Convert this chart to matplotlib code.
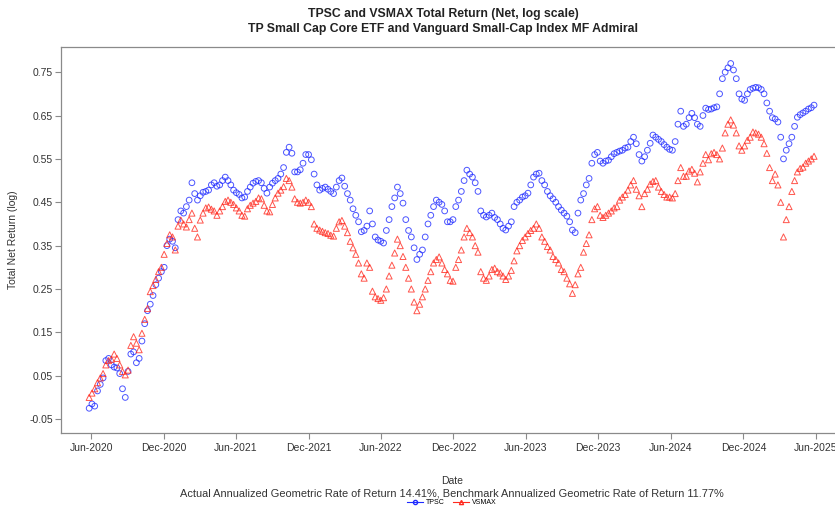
import matplotlib
matplotlib.use("Agg")
import matplotlib.pyplot as plt
import matplotlib.dates as mdates
from matplotlib.lines import Line2D
import pandas as pd

# ---- data (weekly readings) ----
start_date = "2020-05-27"
step = "7D"
tpsc = [-0.025, -0.015, -0.02, 0.015, 0.03, 0.045, 0.085, 0.09, 0.075, 0.07,
        0.068, 0.055, 0.02, 0.00, 0.06, 0.10, 0.105, 0.08, 0.09, 0.13,
        0.17, 0.20, 0.215, 0.235, 0.26, 0.275, 0.29, 0.30, 0.35, 0.365,
        0.36, 0.345, 0.41, 0.43, 0.425, 0.44, 0.455, 0.495, 0.47, 0.455,
        0.465, 0.473, 0.475, 0.478, 0.49, 0.495, 0.487, 0.49, 0.50, 0.508,
        0.50, 0.49, 0.478, 0.472, 0.468, 0.46, 0.462, 0.475, 0.485, 0.494,
        0.498, 0.50, 0.495, 0.482, 0.471, 0.485, 0.494, 0.50, 0.505, 0.515,
        0.53, 0.565, 0.577, 0.563, 0.52, 0.52, 0.525, 0.54, 0.56, 0.56,
        0.548, 0.515, 0.49, 0.478, 0.482, 0.485, 0.48, 0.475, 0.47, 0.485,
        0.50, 0.506, 0.487, 0.47, 0.455, 0.435, 0.42, 0.405, 0.382, 0.385,
        0.395, 0.43, 0.40, 0.37, 0.363, 0.36, 0.356, 0.385, 0.41, 0.44,
        0.46, 0.485, 0.47, 0.448, 0.41, 0.385, 0.37, 0.345, 0.318, 0.33,
        0.34, 0.37, 0.40, 0.42, 0.44, 0.455, 0.45, 0.445, 0.43, 0.405,
        0.405, 0.41, 0.44, 0.455, 0.475, 0.50, 0.524, 0.515, 0.508, 0.495,
        0.475, 0.43, 0.42, 0.416, 0.42, 0.425, 0.415, 0.41, 0.40, 0.39,
        0.386, 0.395, 0.405, 0.44, 0.45, 0.455, 0.462, 0.465, 0.471, 0.49,
        0.508, 0.515, 0.517, 0.50, 0.49, 0.475, 0.465, 0.458, 0.45, 0.44,
        0.432, 0.425, 0.418, 0.405, 0.386, 0.38, 0.425, 0.455, 0.47, 0.49,
        0.505, 0.54, 0.56, 0.565, 0.545, 0.54, 0.545, 0.547, 0.555, 0.562,
        0.565, 0.568, 0.57, 0.575, 0.577, 0.59, 0.60, 0.585, 0.56, 0.545,
        0.555, 0.57, 0.586, 0.605, 0.60, 0.595, 0.59, 0.583, 0.577, 0.572,
        0.57, 0.59, 0.63, 0.66, 0.625, 0.63, 0.645, 0.655, 0.645, 0.63,
        0.625, 0.65, 0.667, 0.664, 0.665, 0.668, 0.67, 0.70, 0.735, 0.75,
        0.76, 0.77, 0.755, 0.735, 0.70, 0.688, 0.685, 0.70, 0.71, 0.713,
        0.715, 0.714, 0.71, 0.70, 0.679, 0.66, 0.645, 0.642, 0.635, 0.60,
        0.55, 0.57, 0.585, 0.60, 0.625, 0.646, 0.652, 0.656, 0.66, 0.665,
        0.668, 0.674]
vsmax = [0.00, 0.01, 0.02, 0.034, 0.045, 0.055, 0.075, 0.085, 0.088, 0.10,
         0.09, 0.075, 0.06, 0.052, 0.063, 0.12, 0.14, 0.125, 0.11, 0.148,
         0.18, 0.205, 0.244, 0.258, 0.272, 0.29, 0.30, 0.33, 0.355, 0.375,
         0.37, 0.34, 0.395, 0.409, 0.40, 0.393, 0.41, 0.425, 0.39, 0.37,
         0.409, 0.425, 0.437, 0.439, 0.434, 0.43, 0.42, 0.43, 0.44, 0.452,
         0.455, 0.45, 0.445, 0.437, 0.43, 0.42, 0.418, 0.435, 0.443, 0.448,
         0.452, 0.46, 0.458, 0.443, 0.43, 0.428, 0.445, 0.46, 0.471, 0.478,
         0.486, 0.505, 0.50, 0.485, 0.458, 0.45, 0.448, 0.45, 0.455, 0.45,
         0.44, 0.40, 0.39, 0.386, 0.383, 0.38, 0.378, 0.374, 0.372, 0.39,
         0.405, 0.408, 0.395, 0.38, 0.36, 0.345, 0.33, 0.31, 0.285, 0.275,
         0.31, 0.30, 0.245, 0.232, 0.228, 0.224, 0.23, 0.25, 0.28, 0.305,
         0.333, 0.365, 0.35, 0.325, 0.30, 0.275, 0.25, 0.22, 0.20, 0.215,
         0.232, 0.25, 0.27, 0.29, 0.31, 0.318, 0.324, 0.31, 0.295, 0.285,
         0.27, 0.268, 0.30, 0.318, 0.34, 0.37, 0.39, 0.38, 0.37, 0.35,
         0.335, 0.29, 0.275, 0.27, 0.28, 0.295, 0.298, 0.29, 0.287, 0.28,
         0.272, 0.28, 0.293, 0.315, 0.338, 0.35, 0.362, 0.37, 0.378, 0.385,
         0.39, 0.40, 0.39, 0.37, 0.36, 0.348, 0.34, 0.325, 0.318, 0.31,
         0.295, 0.29, 0.275, 0.262, 0.24, 0.26, 0.285, 0.30, 0.335, 0.355,
         0.375, 0.41, 0.435, 0.44, 0.42, 0.415, 0.42, 0.425, 0.43, 0.437,
         0.44, 0.455, 0.462, 0.468, 0.478, 0.49, 0.50, 0.48, 0.465, 0.44,
         0.47, 0.48, 0.492, 0.498, 0.50, 0.485, 0.475, 0.468, 0.462, 0.462,
         0.46, 0.47, 0.50, 0.53, 0.51, 0.51, 0.522, 0.526, 0.517, 0.497,
         0.52, 0.54, 0.56, 0.548, 0.562, 0.565, 0.56, 0.55, 0.575, 0.61,
         0.63, 0.64, 0.628, 0.61, 0.58, 0.57, 0.58, 0.593, 0.60, 0.612,
         0.61, 0.607, 0.60, 0.585, 0.563, 0.53, 0.50, 0.515, 0.49, 0.45,
         0.37, 0.41, 0.44, 0.475, 0.50, 0.52, 0.528, 0.531, 0.54, 0.545,
         0.55, 0.556]
series_names = ["TPSC", "VSMAX"]
yticks = [-0.05, 0.05, 0.15, 0.25, 0.35, 0.45, 0.55, 0.65, 0.75]
title1 = "TPSC and VSMAX Total Return (Net, log scale)"
title2 = "TP Small Cap Core ETF and Vanguard Small-Cap Index MF Admiral"
xlabel = "Date"
ylabel = "Total Net Return (log)"
subtitle = ("Actual Annualized Geometric Rate of Return 14.41%, "
            "Benchmark Annualized Geometric Rate of Return 11.77%")

dates = pd.date_range(start_date, periods=len(tpsc), freq=step)

plt.rcParams['font.family'] = ['Liberation Sans', 'DejaVu Sans']

W, H = 835, 508
fig = plt.figure(figsize=(W / 100, H / 100), dpi=100)
ax = fig.add_axes([61 / W, 1 - 433 / H, (843 - 61) / W, (433 - 47) / H])

blue = "#1f2bff"
red = "#ff2a1f"
ax.scatter(dates, tpsc, s=17, facecolors="none", edgecolors=blue,
           linewidths=0.7, marker="o", alpha=0.8, zorder=3)
ax.scatter(dates, vsmax, s=19, facecolors="none", edgecolors=red,
           linewidths=0.7, marker="^", alpha=0.8, zorder=4)

ax.set_xlim(pd.Timestamp("2020-03-17"), pd.Timestamp("2025-08-09"))
ax.set_ylim(-0.082, 0.808)
ax.set_yticks(yticks)
ax.set_yticklabels([f"{v:.2f}" for v in yticks])
ax.xaxis.set_major_locator(mdates.MonthLocator(bymonth=[6, 12], bymonthday=1))
ax.xaxis.set_major_formatter(mdates.DateFormatter("%b-%Y"))

for s in ["left", "bottom", "top", "right"]:
    ax.spines[s].set_color("#8a8a8a")
    ax.spines[s].set_linewidth(0.9)
ax.tick_params(axis="both", colors="#8a8a8a", labelcolor="#333333",
               labelsize=7.5, length=4, width=0.8, direction="out")
ax.tick_params(axis="y", pad=2)
ax.tick_params(axis="x", pad=3)

ax.set_ylabel(ylabel, fontsize=7.5, color="#333333", labelpad=8)

cx = 443 / W
fig.text(cx, 1 - 14 / H, title1, ha="center", va="center",
         fontsize=8.8, fontweight="bold", color="#222222")
fig.text(cx, 1 - 29 / H, title2, ha="center", va="center",
         fontsize=8.8, fontweight="bold", color="#222222")
fig.text(452 / W, 1 - 481 / H, xlabel, ha="center", va="center",
         fontsize=7.5, color="#333333")
fig.text(452 / W, 1 - 493 / H, subtitle, ha="center", va="center",
         fontsize=7.9, color="#333333")

handles = [Line2D([], [], color=blue, marker="o", markerfacecolor="none",
                  markersize=3, linewidth=0.8),
           Line2D([], [], color=red, marker="^", markerfacecolor="none",
                  markersize=3, linewidth=0.8)]
fig.legend(handles, series_names, loc="center", bbox_to_anchor=(452 / W, 1 - 503 / H),
           ncol=2, frameon=False, fontsize=5, handlelength=2.2,
           columnspacing=1.2, handletextpad=0.5, borderpad=0)

fig.savefig("out.png", dpi=100)
